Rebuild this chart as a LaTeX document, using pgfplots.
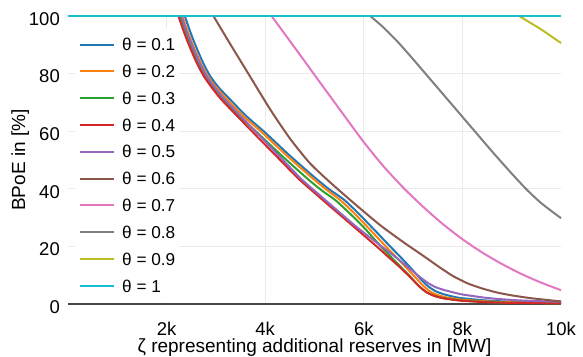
\documentclass[border=0pt]{standalone}
\usepackage{pgfplots}
\pgfplotsset{compat=1.18}
\usepackage{fontspec}
\setmainfont{Liberation Sans}
\definecolor{c1}{HTML}{1F77B4}
\definecolor{c2}{HTML}{FF7F0E}
\definecolor{c3}{HTML}{2CA02C}
\definecolor{c4}{HTML}{D62728}
\definecolor{c5}{HTML}{9467BD}
\definecolor{c6}{HTML}{8C564B}
\definecolor{c7}{HTML}{E377C2}
\definecolor{c8}{HTML}{7F7F7F}
\definecolor{c9}{HTML}{BCBD22}
\definecolor{c10}{HTML}{17BECF}
\begin{document}
\begin{tikzpicture}
\path[use as bounding box] (-68pt,-52pt) rectangle (515pt,304pt);
\begin{axis}[
  at={(0pt,0pt)}, anchor=south west,
  scale only axis, width=493pt, height=288pt,
  xmin=0, xmax=10, ymin=0, ymax=100,
  clip=false,
  axis line style={draw=none},
  major tick length=0pt,
  xtick={2,4,6,8,10}, xticklabels={2k,4k,6k,8k,10k},
  ytick={0,20,40,60,80,100},
  ymajorgrids,
  grid style={black!8, line width=1pt},
  extra x ticks={2,4,6,8}, extra x tick labels={},
  extra x tick style={xmajorgrids=true, grid style={black!8, line width=1pt}},
  extra y ticks={0}, extra y tick labels={},
  extra y tick style={grid style={black!72, line width=1.3pt}},
  tick label style={font=\fontsize{18.5}{20}\selectfont},
  /pgf/number format/assume math mode=true,
  xticklabel style={anchor=base, yshift=-31pt},
  yticklabel style={anchor=east, inner sep=0pt, xshift=-8pt, yshift=-3pt},
  xlabel={ζ representing additional reserves in [MW]},
  xlabel style={at={(axis description cs:0.5,-0.168)}, anchor=base, font=\fontsize{19}{22}\selectfont},
  ylabel={BPoE in [\%]},
  ylabel style={at={(axis description cs:-0.0872,0.5)}, anchor=base, font=\fontsize{19}{22}\selectfont},
  legend style={at={(rel axis cs:0.0142,0.958)}, anchor=north west, fill=white, draw=none,
    inner xsep=4pt, inner ysep=10pt, row sep=14.3pt, column sep=7pt,
    font=\fontsize{17.2}{18}\selectfont,
    nodes={inner sep=0pt, text height=12.5pt, text depth=0pt}},
  legend cell align=left,
  legend image code/.code={\draw[#1] (0pt,0pt) -- (34pt,0pt);},
  every axis plot/.append style={line width=2pt, line join=round},
  curve/.style={smooth, tension=0.4},
]
\addplot[c1, forget plot] coordinates {(0,100) (2.37,100)};
\addplot[c1, curve] coordinates {(2.37,100) (2.47,95) (2.57,90.5) (2.72,84.5) (2.87,79.5) (3.05,75.3) (3.3,70.8) (3.62,65.2) (4.0,59.5) (4.5,51.5) (5.0,44) (5.3,39.8) (5.6,36.2) (5.9,31.3) (6.2,26) (6.5,20.6) (6.8,15.3) (7.0,11.6) (7.15,8.7) (7.3,6.2) (7.45,4.5) (7.6,3.5) (7.8,2.6) (8.0,2.0) (8.5,1.2) (9,0.8) (10,0.4)};
\addlegendentry{θ = 0.1}
\addplot[c2, forget plot] coordinates {(0,100) (2.32,100)};
\addplot[c2, curve] coordinates {(2.32,100) (2.42,95) (2.52,90.5) (2.67,84.5) (2.82,79.5) (3.0,75.3) (3.24,70.8) (3.56,65.2) (3.92,59.8) (4.42,51.8) (4.95,43.8) (5.25,39.6) (5.52,36.1) (5.8,31.6) (6.1,26.3) (6.43,20.3) (6.7,15.5) (6.9,11.9) (7.05,9.2) (7.2,6.4) (7.35,4.3) (7.5,3.1) (7.7,2.2) (8,1.5) (8.5,0.9) (9,0.6) (10,0.3)};
\addlegendentry{θ = 0.2}
\addplot[c3, forget plot] coordinates {(0,100) (2.28,100)};
\addplot[c3, curve] coordinates {(2.28,100) (2.38,95) (2.48,90.5) (2.63,84.5) (2.78,79.5) (2.95,75.3) (3.17,70.8) (3.48,65.2) (3.82,59.8) (4.33,51.6) (4.85,43.6) (5.15,39.4) (5.42,36.1) (5.7,31.7) (6.0,26.6) (6.33,20.3) (6.6,15.5) (6.8,12) (6.97,9) (7.12,6.2) (7.27,4.1) (7.42,2.9) (7.6,2.1) (7.8,1.6) (8,1.2) (8.5,0.7) (9,0.4) (10,0.2)};
\addlegendentry{θ = 0.3}
\addplot[c4, forget plot] coordinates {(0,100) (2.24,100)};
\addplot[c4, curve] coordinates {(2.24,100) (2.34,95) (2.44,90.5) (2.59,84.5) (2.74,79.5) (2.91,75.3) (3.1,71.2) (3.4,65.8) (3.73,60) (4.2,51.8) (4.67,43.6) (5.0,38.6) (5.31,34) (5.8,26.8) (6.26,20) (6.5,16.3) (6.73,12.8) (6.9,10) (7.0,8.3) (7.1,6.5) (7.2,5) (7.3,3.8) (7.45,2.7) (7.6,2.0) (7.8,1.5) (8.0,1.1) (8.5,0.6) (9,0.4) (10,0.2)};
\addlegendentry{θ = 0.4}
\addplot[c5, forget plot] coordinates {(0,100) (2.3,100)};
\addplot[c5, curve] coordinates {(2.3,100) (2.4,95) (2.5,90.5) (2.65,84.5) (2.8,79.5) (2.97,75.3) (3.17,71.2) (3.47,65.8) (3.8,60) (4.26,51.8) (4.72,43.6) (5.05,38.6) (5.36,34) (5.85,26.8) (6.33,20.4) (6.6,16.9) (6.85,13.4) (7.0,11.3) (7.15,9.2) (7.3,7.3) (7.45,5.9) (7.6,5.0) (7.8,4.1) (8.0,3.3) (8.5,2.1) (9,1.4) (9.5,1.0) (10,0.8)};
\addlegendentry{θ = 0.5}
\addplot[c6, forget plot] coordinates {(0,100) (2.95,100)};
\addplot[c6, curve] coordinates {(2.95,100) (3.3,90) (3.7,78.8) (4.1,67.6) (4.5,57.5) (4.9,49) (5.3,42.5) (5.8,35) (6.33,27.4) (6.8,21.5) (7.2,16.8) (7.55,12.6) (7.8,9.8) (8.1,7.2) (8.4,5.4) (8.7,4.0) (9.0,3.0) (9.4,2.0) (10,0.9)};
\addlegendentry{θ = 0.6}
\addplot[c7, forget plot] coordinates {(0,100) (4.13,100)};
\addplot[c7, curve] coordinates {(4.13,100) (4.6,89) (5.1,77.2) (5.6,65.5) (6.0,56.2) (6.4,47.8) (6.8,40.4) (7.2,33.8) (7.6,27.8) (8.0,22.5) (8.4,17.9) (8.8,13.9) (9.2,10.4) (9.6,7.4) (10,4.8)};
\addlegendentry{θ = 0.7}
\addplot[c8, forget plot] coordinates {(0,100) (6.13,100)};
\addplot[c8, curve] coordinates {(6.13,100) (6.4,96) (6.7,90.8) (7.0,85) (7.4,77) (7.8,69) (8.2,61) (8.6,53) (9.0,45.3) (9.3,39.8) (9.6,35) (10,29.8)};
\addlegendentry{θ = 0.8}
\addplot[c9, forget plot] coordinates {(0,100) (9.15,100)};
\addplot[c9, curve] coordinates {(9.15,100) (9.6,95.3) (10,90.6)};
\addlegendentry{θ = 0.9}
\addplot[c10] coordinates {(0,100) (10,100)};
\addlegendentry{θ = 1}
\end{axis}
\end{tikzpicture}
\end{document}
